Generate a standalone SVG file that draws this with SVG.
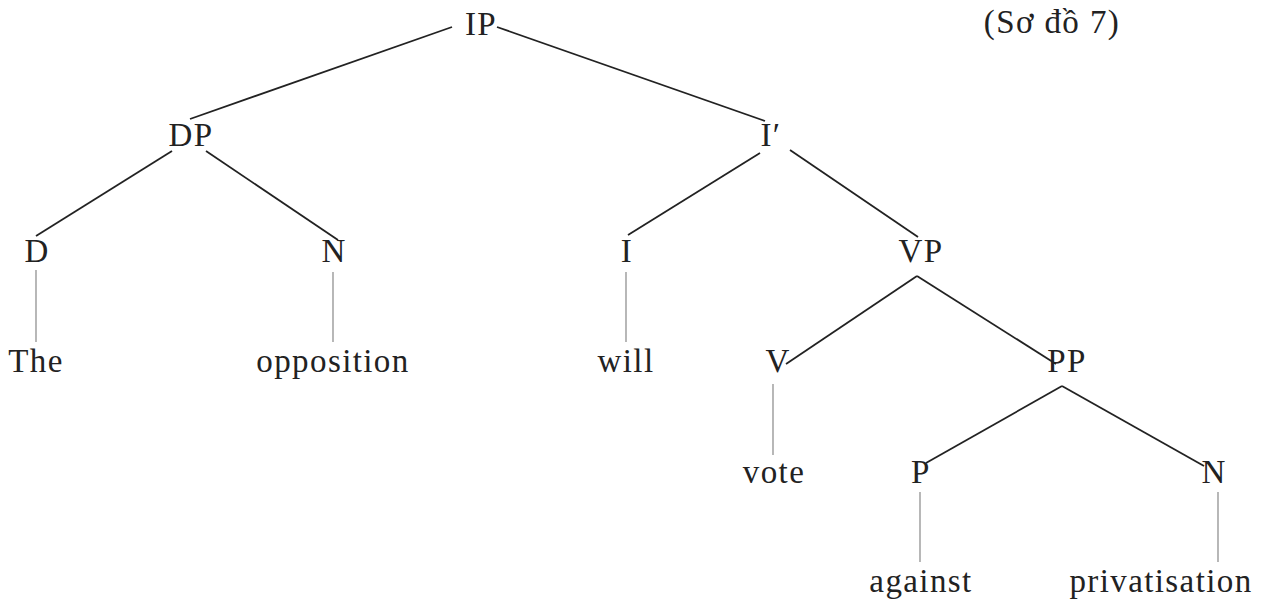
<svg xmlns="http://www.w3.org/2000/svg" width="1263" height="600" viewBox="0 0 1263 600">
  <style>
    .lbl { font-family: "Liberation Serif", "DejaVu Serif", serif; font-size: 33px; fill: #222; text-anchor: middle; letter-spacing: 1.4px; }
    .branch { stroke: #222; stroke-width: 1.8; fill: none; }
    .stem { stroke: #888; stroke-width: 1.2; fill: none; }
  </style>
  <rect width="1263" height="600" fill="#fff"/>

  <!-- tree edges -->
  <g id="connectors">
    <line class="branch" x1="452" y1="27" x2="190" y2="119"/>
    <line class="branch" x1="497" y1="27" x2="765" y2="121"/>
    <line class="branch" x1="172" y1="151" x2="36" y2="236"/>
    <line class="branch" x1="206" y1="151" x2="338" y2="240"/>
    <line class="branch" x1="760" y1="153" x2="628" y2="235"/>
    <line class="branch" x1="790" y1="150" x2="918" y2="237"/>
    <line class="branch" x1="917" y1="276" x2="786" y2="364"/>
    <line class="branch" x1="917" y1="276" x2="1056" y2="364"/>
    <line class="branch" x1="1062" y1="386" x2="926" y2="463"/>
    <line class="branch" x1="1062" y1="386" x2="1204" y2="466"/>
    <line class="stem" x1="36" y1="270" x2="36" y2="342"/>
    <line class="stem" x1="333" y1="272" x2="333" y2="342"/>
    <line class="stem" x1="626" y1="272" x2="626" y2="342"/>
    <line class="stem" x1="773" y1="384" x2="773" y2="455"/>
    <line class="stem" x1="920" y1="492" x2="920" y2="562"/>
    <line class="stem" x1="1218" y1="492" x2="1218" y2="562"/>
  </g>

  <g id="n-ip"><text class="lbl" x="481" y="35">IP</text></g>
  <g id="n-caption"><text class="lbl" x="1052" y="33">(Sơ đồ 7)</text></g>
  <g id="n-dp"><text class="lbl" x="191" y="146">DP</text></g>
  <g id="n-ibar"><text class="lbl" x="771" y="146">I′</text></g>
  <g id="n-d"><text class="lbl" x="37" y="262">D</text></g>
  <g id="n-n1"><text class="lbl" x="334" y="262">N</text></g>
  <g id="n-i"><text class="lbl" x="627" y="262">I</text></g>
  <g id="n-vp"><text class="lbl" x="921" y="262">VP</text></g>
  <g id="n-the"><text class="lbl" x="36" y="372">The</text></g>
  <g id="n-opposition"><text class="lbl" x="333" y="372">opposition</text></g>
  <g id="n-will"><text class="lbl" x="626" y="372">will</text></g>
  <g id="n-v"><text class="lbl" x="778" y="372">V</text></g>
  <g id="n-pp"><text class="lbl" x="1067" y="372">PP</text></g>
  <g id="n-vote"><text class="lbl" x="774" y="483">vote</text></g>
  <g id="n-p"><text class="lbl" x="921" y="483">P</text></g>
  <g id="n-n2"><text class="lbl" x="1214" y="483">N</text></g>
  <g id="n-against"><text class="lbl" x="921" y="592">against</text></g>
  <g id="n-privatisation"><text class="lbl" x="1161" y="592">privatisation</text></g>
</svg>
